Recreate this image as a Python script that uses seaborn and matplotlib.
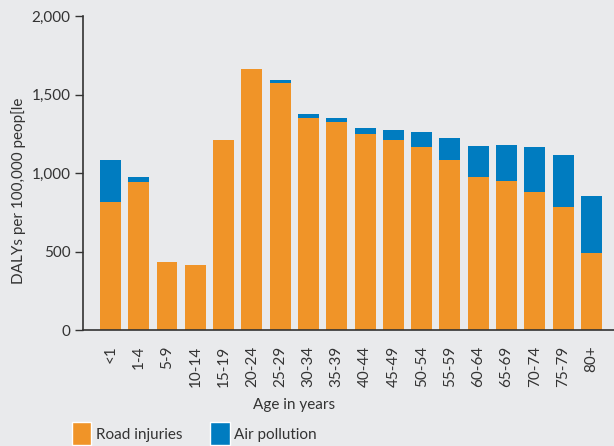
import pandas as pd
import matplotlib.pyplot as plt
import seaborn as sns
from matplotlib.patches import Patch

# Data (DALYs per 100,000 people)
age_groups = ['<1', '1-4', '5-9', '10-14', '15-19', '20-24', '25-29', '30-34', '35-39',
              '40-44', '45-49', '50-54', '55-59', '60-64', '65-69', '70-74', '75-79', '80+']
road_injuries = [814, 942, 430, 414, 1209, 1661, 1572, 1351, 1324,
                 1247, 1209, 1164, 1082, 974, 948, 878, 783, 490]
air_pollution = [268, 32, 0, 0, 0, 0, 19, 24, 25,
                 38, 64, 96, 140, 197, 229, 286, 331, 363]

df = pd.DataFrame({'age': age_groups, 'road': road_injuries, 'air': air_pollution})
df['total'] = df['road'] + df['air']

bg = '#e9eaec'
orange = '#f09428'
blue = '#007cc0'
ink = '#333333'
fs = 11

sns.set_theme(style='white')
plt.rcParams['font.family'] = ['Lato', 'DejaVu Sans']

fig = plt.figure(figsize=(6.14, 4.46), dpi=100, facecolor=bg)
ax = fig.add_axes([83 / 614, 1 - 330 / 446, 531 / 614, 314 / 446])
ax.set_facecolor(bg)

# stacked bars: draw the total in blue, then road injuries on top of it in orange
sns.barplot(data=df, x='age', y='total', color=blue, saturation=1, width=0.74,
            linewidth=0, edgecolor='none', ax=ax)
sns.barplot(data=df, x='age', y='road', color=orange, saturation=1, width=0.74,
            linewidth=0, edgecolor='none', ax=ax)

ax.set_ylim(0, 2000)
ax.set_xlim(-0.97, 17.8)
ax.set_yticks([0, 500, 1000, 1500, 2000])
ax.set_yticklabels(['0', '500', '1,000', '1,500', '2,000'])

for s in ['top', 'right']:
    ax.spines[s].set_visible(False)
for s in ['left', 'bottom']:
    ax.spines[s].set_color(ink)
    ax.spines[s].set_linewidth(1.2)

ax.tick_params(axis='y', left=True, length=6, width=1, color=ink, pad=3,
               labelsize=fs, labelcolor=ink)
ax.tick_params(axis='x', bottom=False, length=0, pad=11, labelsize=fs,
               labelcolor=ink, labelrotation=90)

ax.set_ylabel('DALYs per 100,000 peop[le', fontsize=fs, color=ink)
ax.yaxis.set_label_coords(-0.108, 0.443)
ax.set_xlabel('Age in years', fontsize=fs, color=ink)
ax.xaxis.set_label_coords((294 - 83) / 531, -0.215)

handles = [Patch(facecolor=orange, label='Road injuries'),
           Patch(facecolor=blue, label='Air pollution')]
fig.legend(handles=handles, loc='lower left', bbox_to_anchor=(72 / 614, 1 / 446),
           ncol=2, frameon=False, fontsize=fs, labelcolor=ink,
           handlelength=1.25, handleheight=1.9, handletextpad=0.3,
           columnspacing=1.85, borderpad=0, borderaxespad=0)

plt.savefig('out.png', dpi=100, facecolor=bg)
